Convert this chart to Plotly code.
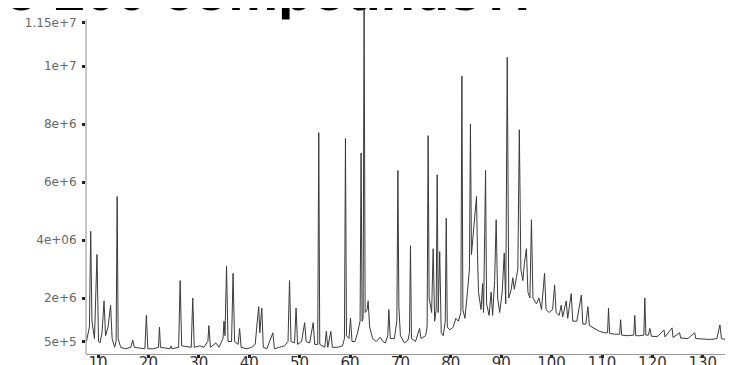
import plotly.graph_objects as go

# Retention time (min) and detector response (millions of counts)
retention_time = [
    7.7, 8.3, 8.55, 8.8, 9.3, 9.8, 10.1, 10.4, 10.8, 11.2, 11.5, 12.0, 12.5, 12.8, 13.3, 13.6, 13.8, 14.0,
    14.5, 15.5, 16.5, 16.9, 17.2, 18.0, 19.3, 19.6, 19.9, 21.0, 22.0, 22.2, 22.4, 24.3, 24.5, 24.7,
    26.0, 26.3, 26.6, 28.5, 28.8, 29.1, 30.2, 31.0, 31.8, 32.0, 32.3, 33.4, 34.0, 34.8, 35.0, 35.2,
    35.5, 35.8, 36.5, 36.8, 37.1, 37.8, 38.1, 38.4, 39.5, 40.5, 41.2, 41.6, 41.9, 42.1, 42.5, 42.8,
    43.5, 44.7, 45.0, 46.0, 47.0, 47.7, 48.0, 48.3, 49.0, 49.3, 49.6, 50.4, 51.0, 51.3, 52.0, 52.7,
    53.0, 53.6, 53.8, 54.0, 55.0, 55.3, 55.6, 56.2, 56.5, 57.5, 58.5, 58.9, 59.1, 59.3, 59.8, 60.1,
    60.4, 61.0, 61.5, 62.0, 62.2, 62.4, 62.6, 62.8, 63.0, 63.4, 63.6, 63.9, 64.5, 65.2, 66.0, 66.5,
    67.0, 67.5, 67.7, 68.0, 68.8, 69.3, 69.5, 69.7, 70.0, 70.8, 71.5, 71.8, 72.0, 72.2, 73.0, 73.8,
    74.1, 75.0, 75.3, 75.5, 75.7, 76.2, 76.5, 76.8, 77.1, 77.3, 77.5, 77.8, 78.1, 78.5, 78.9, 79.1,
    79.3, 79.8, 80.5, 81.0, 81.5, 82.0, 82.2, 82.4, 82.8, 83.3, 83.7, 83.9, 84.1, 84.6, 85.1, 85.3,
    85.5, 86.0, 86.3, 86.5, 86.9, 87.1, 87.6, 88.0, 88.3, 88.7, 89.0, 89.3, 89.7, 90.2, 90.6, 90.9,
    91.2, 91.5, 92.0, 92.3, 92.6, 93.0, 93.3, 93.6, 93.9, 94.3, 94.6, 95.0, 95.3, 95.7, 96.0, 96.3,
    97.0, 97.5, 98.0, 98.6, 98.9, 99.5, 100.2, 100.6, 100.9, 101.5, 101.9, 102.2, 102.9, 103.2, 103.9,
    104.2, 105.0, 105.9, 106.2, 106.8, 107.2, 107.5, 108.5, 109.5, 110.5, 111.1, 111.3, 111.5, 112.5,
    113.5, 113.7, 113.9, 115.0, 116.3, 116.5, 116.7, 117.5, 118.3, 118.5, 118.7, 119.2, 119.5, 119.8,
    121.0, 122.3, 122.5, 123.9, 124.1, 125.4, 125.6, 127.0, 128.4, 128.6, 130.0, 131.5, 132.8, 133.4,
    133.7, 135.0, 136.3, 136.5, 137.6,
]
intensity_millions = [
    0.5, 1.0, 4.3, 1.2, 0.6, 3.5, 0.5, 0.45, 0.8, 1.9, 0.7, 1.0, 1.75, 0.6, 0.3, 0.5, 5.5, 0.6,
    0.3, 0.25, 0.3, 0.55, 0.3, 0.28, 0.25, 1.4, 0.25, 0.25, 0.3, 1.0, 0.3, 0.25, 0.35, 0.25,
    0.3, 2.6, 0.35, 0.3, 2.0, 0.3, 0.35, 0.3, 0.5, 1.05, 0.3, 0.45, 0.3, 0.6, 1.2, 0.7,
    3.1, 0.5, 0.5, 2.85, 0.5, 0.4, 0.95, 0.3, 0.25, 0.3, 0.4, 1.2, 1.7, 0.8, 1.65, 0.3,
    0.25, 0.8, 0.25, 0.3, 0.35, 0.5, 2.6, 0.5, 0.45, 1.65, 0.4, 0.5, 1.15, 0.5, 0.45, 1.15,
    0.4, 0.4, 7.7, 0.4, 0.3, 0.85, 0.3, 0.85, 0.3, 0.3, 0.35, 0.6, 7.5, 0.7, 0.6, 1.3,
    0.5, 0.5, 0.8, 1.2, 7.0, 1.2, 1.3, 12.2, 1.5, 1.6, 1.9, 1.0, 0.6, 0.5, 0.65, 0.5,
    0.45, 0.7, 1.6, 0.6, 0.6, 1.2, 6.4, 1.7, 0.7, 0.45, 0.55, 0.8, 3.8, 0.6, 0.5, 0.95,
    0.6, 0.7, 1.0, 7.6, 2.0, 1.5, 3.7, 1.2, 1.6, 6.25, 1.5, 3.6, 0.8, 0.7, 1.2, 4.75,
    1.0, 0.9, 1.0, 1.3, 1.2, 1.5, 9.65, 1.6, 1.3, 2.2, 3.0, 8.0, 3.5, 4.5, 5.5, 3.5,
    2.2, 1.6, 2.5, 1.5, 6.4, 1.8, 1.4, 2.2, 1.4, 2.6, 4.7, 2.0, 1.5, 2.2, 3.55, 1.8,
    10.3, 2.0, 2.3, 2.7, 2.3, 2.7, 3.0, 7.8, 3.0, 2.6, 3.2, 3.7, 2.2, 2.0, 4.7, 2.0,
    1.8, 2.0, 1.6, 2.85, 1.6, 1.5, 1.6, 2.45, 1.5, 1.4, 1.75, 1.35, 1.9, 1.3, 2.15,
    1.2, 1.2, 2.1, 1.1, 1.1, 1.7, 1.05, 0.95, 0.85, 0.8, 0.8, 1.65, 0.78, 0.75,
    0.75, 1.25, 0.72, 0.7, 0.72, 1.4, 0.7, 0.7, 0.72, 2.0, 0.72, 0.72, 0.95, 0.68,
    0.67, 0.9, 0.66, 0.97, 0.64, 0.8, 0.62, 0.6, 0.8, 0.6, 0.58, 0.57, 0.6, 1.07,
    0.6, 0.55, 0.8, 0.55, 0.55,
]

y_tick_values = [0.5, 2, 4, 6, 8, 10, 11.5]
y_tick_labels = ["5e+5", "2e+6", "4e+06", "6e+6", "8e+6", "1e+7", "1.15e+7"]
x_tick_values = [10, 20, 30, 40, 50, 60, 70, 80, 90, 100, 110, 120, 130]
title_text = "to 200 compounds?."

W, H = 733, 365
PLOT_H = 346  # plot area height in px (margin b=19)
LEFT = 78      # y axis position in px

fig = go.Figure()
fig.add_trace(go.Scatter(
    x=retention_time, y=intensity_millions, mode="lines",
    line=dict(color="#3a3a3a", width=1), hoverinfo="skip", showlegend=False,
))
# Slide title, mostly hidden above the figure (only the bottom of the letters shows)
fig.add_trace(go.Scatter(
    x=[522], y=[-4], mode="text", text=[title_text], textposition="top left",
    textfont=dict(size=56, color="black", family="Liberation Sans, Arial, sans-serif", weight="bold"),
    cliponaxis=True, hoverinfo="skip", showlegend=False, xaxis="x2", yaxis="y2",
))
# White mask over the descender of the title's "p" (the chart image covers the title there)
mask_x = [262, 300, 300, 262]
mask_y = [-0.6, -0.6, -16, -16]
fig.add_trace(go.Scatter(
    x=mask_x, y=mask_y, mode="lines", fill="toself", fillcolor="white",
    line=dict(width=0, color="white"), hoverinfo="skip", showlegend=False,
    xaxis="x2", yaxis="y2",
))

fig.update_layout(
    width=W, height=H,
    margin=dict(l=0, r=0, t=0, b=19),
    paper_bgcolor="white", plot_bgcolor="rgba(0,0,0,0)",
    hovermode=False,
    font=dict(family="DejaVu Sans, sans-serif"),
    xaxis=dict(
        domain=[LEFT / W, 1],
        range=[7.62, 137.58], tickvals=x_tick_values,
        showgrid=False, zeroline=False,
        showline=True, linecolor="#9a9a9a", linewidth=1,
        ticks="outside", ticklen=3, tickwidth=3, tickcolor="#222",
        ticklabelstandoff=-8,
        tickfont=dict(size=15, color="#333", family="DejaVu Sans, sans-serif"),
    ),
    yaxis=dict(
        range=[0.069, 12.0], tickvals=y_tick_values, ticktext=y_tick_labels,
        showgrid=False, zeroline=False, showline=False,
        ticks="outside", ticklen=3, tickwidth=3, tickcolor="#222",
        ticklabelstandoff=3,
        tickfont=dict(size=12, color="#666", family="DejaVu Sans, sans-serif"),
    ),
    xaxis2=dict(domain=[0, 1], range=[0, W], visible=False, anchor="y2", fixedrange=True),
    yaxis2=dict(domain=[1 - 11.5 / PLOT_H, 1], range=[0, 11.5], visible=False, anchor="x2", fixedrange=True),
    shapes=[
        dict(type="line", xref="paper", yref="y", x0=LEFT / W, x1=LEFT / W, y0=0.069, y1=11.6,
             line=dict(color="#8a8a8a", width=1)),
    ],
)

fig.write_html("out.html", config={"displayModeBar": False})
